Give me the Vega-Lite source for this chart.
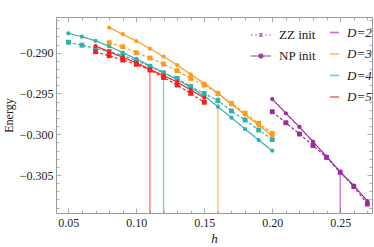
{
  "$schema": "https://vega.github.io/schema/vega-lite/v6.json",
  "width": 316,
  "height": 196,
  "autosize": {"type": "none"},
  "padding": {"left": 56, "top": 17, "right": 2, "bottom": 34},
  "background": "white",
  "config": {
    "view": {"stroke": "#9a9a9a", "strokeWidth": 1},
    "font": "Liberation Serif"
  },
  "datasets": {
    "curves": [
      {"h": 0.08, "E": -0.28691, "D": "D=3", "init": "NP init"},
      {"h": 0.09, "E": -0.28773, "D": "D=3", "init": "NP init"},
      {"h": 0.10, "E": -0.28857, "D": "D=3", "init": "NP init"},
      {"h": 0.11, "E": -0.28951, "D": "D=3", "init": "NP init"},
      {"h": 0.12, "E": -0.29047, "D": "D=3", "init": "NP init"},
      {"h": 0.13, "E": -0.29151, "D": "D=3", "init": "NP init"},
      {"h": 0.14, "E": -0.29265, "D": "D=3", "init": "NP init"},
      {"h": 0.15, "E": -0.29378, "D": "D=3", "init": "NP init"},
      {"h": 0.16, "E": -0.29494, "D": "D=3", "init": "NP init"},
      {"h": 0.17, "E": -0.29635, "D": "D=3", "init": "NP init"},
      {"h": 0.18, "E": -0.29758, "D": "D=3", "init": "NP init"},
      {"h": 0.19, "E": -0.29887, "D": "D=3", "init": "NP init"},
      {"h": 0.20, "E": -0.30022, "D": "D=3", "init": "NP init"},
      {"h": 0.08, "E": -0.28877, "D": "D=3", "init": "ZZ init"},
      {"h": 0.09, "E": -0.28926, "D": "D=3", "init": "ZZ init"},
      {"h": 0.10, "E": -0.29000, "D": "D=3", "init": "ZZ init"},
      {"h": 0.11, "E": -0.29065, "D": "D=3", "init": "ZZ init"},
      {"h": 0.12, "E": -0.29139, "D": "D=3", "init": "ZZ init"},
      {"h": 0.13, "E": -0.29221, "D": "D=3", "init": "ZZ init"},
      {"h": 0.14, "E": -0.29316, "D": "D=3", "init": "ZZ init"},
      {"h": 0.15, "E": -0.29396, "D": "D=3", "init": "ZZ init"},
      {"h": 0.16, "E": -0.29500, "D": "D=3", "init": "ZZ init"},
      {"h": 0.17, "E": -0.29621, "D": "D=3", "init": "ZZ init"},
      {"h": 0.18, "E": -0.29743, "D": "D=3", "init": "ZZ init"},
      {"h": 0.19, "E": -0.29866, "D": "D=3", "init": "ZZ init"},
      {"h": 0.20, "E": -0.29989, "D": "D=3", "init": "ZZ init"},
      {"h": 0.05, "E": -0.28762, "D": "D=4", "init": "NP init"},
      {"h": 0.06, "E": -0.28804, "D": "D=4", "init": "NP init"},
      {"h": 0.07, "E": -0.28854, "D": "D=4", "init": "NP init"},
      {"h": 0.08, "E": -0.28922, "D": "D=4", "init": "NP init"},
      {"h": 0.09, "E": -0.28998, "D": "D=4", "init": "NP init"},
      {"h": 0.10, "E": -0.29077, "D": "D=4", "init": "NP init"},
      {"h": 0.11, "E": -0.29159, "D": "D=4", "init": "NP init"},
      {"h": 0.12, "E": -0.29243, "D": "D=4", "init": "NP init"},
      {"h": 0.13, "E": -0.29329, "D": "D=4", "init": "NP init"},
      {"h": 0.14, "E": -0.29427, "D": "D=4", "init": "NP init"},
      {"h": 0.15, "E": -0.29531, "D": "D=4", "init": "NP init"},
      {"h": 0.16, "E": -0.29662, "D": "D=4", "init": "NP init"},
      {"h": 0.17, "E": -0.29797, "D": "D=4", "init": "NP init"},
      {"h": 0.18, "E": -0.29936, "D": "D=4", "init": "NP init"},
      {"h": 0.19, "E": -0.30071, "D": "D=4", "init": "NP init"},
      {"h": 0.20, "E": -0.30202, "D": "D=4", "init": "NP init"},
      {"h": 0.05, "E": -0.28872, "D": "D=4", "init": "ZZ init"},
      {"h": 0.06, "E": -0.28908, "D": "D=4", "init": "ZZ init"},
      {"h": 0.07, "E": -0.28949, "D": "D=4", "init": "ZZ init"},
      {"h": 0.08, "E": -0.28985, "D": "D=4", "init": "ZZ init"},
      {"h": 0.09, "E": -0.29034, "D": "D=4", "init": "ZZ init"},
      {"h": 0.10, "E": -0.29096, "D": "D=4", "init": "ZZ init"},
      {"h": 0.11, "E": -0.29169, "D": "D=4", "init": "ZZ init"},
      {"h": 0.12, "E": -0.29247, "D": "D=4", "init": "ZZ init"},
      {"h": 0.13, "E": -0.29316, "D": "D=4", "init": "ZZ init"},
      {"h": 0.14, "E": -0.29415, "D": "D=4", "init": "ZZ init"},
      {"h": 0.15, "E": -0.29500, "D": "D=4", "init": "ZZ init"},
      {"h": 0.16, "E": -0.29586, "D": "D=4", "init": "ZZ init"},
      {"h": 0.17, "E": -0.29715, "D": "D=4", "init": "ZZ init"},
      {"h": 0.18, "E": -0.29825, "D": "D=4", "init": "ZZ init"},
      {"h": 0.19, "E": -0.29948, "D": "D=4", "init": "ZZ init"},
      {"h": 0.20, "E": -0.30065, "D": "D=4", "init": "ZZ init"},
      {"h": 0.07, "E": -0.28918, "D": "D=5", "init": "NP init"},
      {"h": 0.08, "E": -0.28988, "D": "D=5", "init": "NP init"},
      {"h": 0.09, "E": -0.29056, "D": "D=5", "init": "NP init"},
      {"h": 0.10, "E": -0.29123, "D": "D=5", "init": "NP init"},
      {"h": 0.11, "E": -0.29204, "D": "D=5", "init": "NP init"},
      {"h": 0.12, "E": -0.29280, "D": "D=5", "init": "NP init"},
      {"h": 0.13, "E": -0.29359, "D": "D=5", "init": "NP init"},
      {"h": 0.14, "E": -0.29457, "D": "D=5", "init": "NP init"},
      {"h": 0.15, "E": -0.29552, "D": "D=5", "init": "NP init"},
      {"h": 0.07, "E": -0.28988, "D": "D=5", "init": "ZZ init"},
      {"h": 0.08, "E": -0.29037, "D": "D=5", "init": "ZZ init"},
      {"h": 0.09, "E": -0.29090, "D": "D=5", "init": "ZZ init"},
      {"h": 0.10, "E": -0.29142, "D": "D=5", "init": "ZZ init"},
      {"h": 0.11, "E": -0.29212, "D": "D=5", "init": "ZZ init"},
      {"h": 0.12, "E": -0.29304, "D": "D=5", "init": "ZZ init"},
      {"h": 0.13, "E": -0.29396, "D": "D=5", "init": "ZZ init"},
      {"h": 0.14, "E": -0.29498, "D": "D=5", "init": "ZZ init"},
      {"h": 0.15, "E": -0.29608, "D": "D=5", "init": "ZZ init"},
      {"h": 0.20, "E": -0.29568, "D": "D=2", "init": "NP init"},
      {"h": 0.21, "E": -0.29743, "D": "D=2", "init": "NP init"},
      {"h": 0.22, "E": -0.29911, "D": "D=2", "init": "NP init"},
      {"h": 0.23, "E": -0.30092, "D": "D=2", "init": "NP init"},
      {"h": 0.24, "E": -0.30273, "D": "D=2", "init": "NP init"},
      {"h": 0.25, "E": -0.30460, "D": "D=2", "init": "NP init"},
      {"h": 0.26, "E": -0.30629, "D": "D=2", "init": "NP init"},
      {"h": 0.27, "E": -0.30819, "D": "D=2", "init": "NP init"},
      {"h": 0.20, "E": -0.29724, "D": "D=2", "init": "ZZ init"},
      {"h": 0.21, "E": -0.29859, "D": "D=2", "init": "ZZ init"},
      {"h": 0.22, "E": -0.29997, "D": "D=2", "init": "ZZ init"},
      {"h": 0.23, "E": -0.30138, "D": "D=2", "init": "ZZ init"},
      {"h": 0.24, "E": -0.30285, "D": "D=2", "init": "ZZ init"},
      {"h": 0.25, "E": -0.30467, "D": "D=2", "init": "ZZ init"},
      {"h": 0.26, "E": -0.30641, "D": "D=2", "init": "ZZ init"},
      {"h": 0.27, "E": -0.30856, "D": "D=2", "init": "ZZ init"}
    ],
    "cuts": [
      {"h": 0.11, "E": -0.29204, "D": "D=5"},
      {"h": 0.12, "E": -0.29243, "D": "D=4"},
      {"h": 0.16, "E": -0.29494, "D": "D=3"},
      {"h": 0.25, "E": -0.30460, "D": "D=2"}
    ]
  },
  "resolve": {"axis": {"x": "independent", "y": "independent"}},
  "layer": [
    {
      "data": {"name": "cuts"},
      "mark": {"type": "rule", "strokeWidth": 1.3, "opacity": 0.65},
      "encoding": {
        "x": {"field": "h", "type": "quantitative", "axis": null,
              "scale": {"domain": [0.0409, 0.2734], "nice": false, "zero": false}},
        "y": {"field": "E", "type": "quantitative", "axis": null,
              "scale": {"domain": [-0.30966, -0.28562], "nice": false, "zero": false}},
        "y2": {"datum": -0.30966},
        "color": {"field": "D", "type": "nominal",
                  "scale": {"domain": ["D=2", "D=3", "D=4", "D=5"], "range": ["#9E2AA0", "#FF9A1F", "#2DB2AE", "#F52020"]}}
      }
    },
    {
      "data": {"name": "curves"},
      "mark": {"type": "line", "strokeWidth": 1.2},
      "encoding": {
        "x": {"field": "h", "type": "quantitative",
              "scale": {"domain": [0.0409, 0.2734], "nice": false, "zero": false},
              "axis": {
                "orient": "bottom", "title": "h", "domain": false, "grid": false,
                "values": [0.05,0.06,0.07,0.08,0.09,0.10,0.11,0.12,0.13,0.14,0.15,0.16,0.17,0.18,0.19,0.20,0.21,0.22,0.23,0.24,0.25,0.26,0.27],
                "labelExpr": "round(datum.value*100) % 5 == 0 ? format(datum.value, '.2f') : ''",
                "tickSize": {"condition": {"test": "round(datum.value*100) % 5 == 0", "value": -5}, "value": -3},
                "tickColor": "#9a9a9a", "tickWidth": 0.8,
                "labelFont": "Liberation Serif", "labelFontSize": 12, "labelColor": "#222", "labelPadding": 9,
                "labelFlush": false, "labelOverlap": false,
                "titleFont": "Liberation Serif", "titleFontSize": 13, "titleFontStyle": "italic", "titleFontWeight": "normal", "titleColor": "#222", "titlePadding": 2
              }},
        "y": {"field": "E", "type": "quantitative",
              "scale": {"domain": [-0.30966, -0.28562], "nice": false, "zero": false},
              "axis": {
                "orient": "left", "title": "Energy", "domain": false, "grid": false,
                "values": [-0.309,-0.308,-0.307,-0.306,-0.305,-0.304,-0.303,-0.302,-0.301,-0.300,-0.299,-0.298,-0.297,-0.296,-0.295,-0.294,-0.293,-0.292,-0.291,-0.290,-0.289,-0.288,-0.287,-0.286],
                "labelExpr": "round(datum.value*1000) % 5 == 0 ? format(datum.value, '.3f') : ''",
                "tickSize": {"condition": {"test": "round(datum.value*1000) % 5 == 0", "value": -5}, "value": -3},
                "tickColor": "#9a9a9a", "tickWidth": 0.8,
                "labelFont": "Liberation Serif", "labelFontSize": 12, "labelColor": "#222", "labelPadding": 8,
                "labelFlush": false, "labelOverlap": false,
                "titleFont": "Liberation Serif", "titleFontSize": 12, "titleFontWeight": "normal", "titleColor": "#222", "titlePadding": 4
              }},
        "color": {"field": "D", "type": "nominal",
                  "scale": {"domain": ["D=2", "D=3", "D=4", "D=5"], "range": ["#9E2AA0", "#FF9A1F", "#2DB2AE", "#F52020"]},
                  "legend": {
                    "orient": "none", "legendX": 272, "legendY": 9, "title": null, "padding": 0,
                    "symbolType": "stroke", "symbolSize": 81, "symbolStrokeWidth": 1.6, "symbolOpacity": 0.75,
                    "labelFont": "Liberation Serif", "labelFontSize": 13, "labelFontStyle": "italic", "labelColor": "#222",
                    "labelOffset": 6, "rowPadding": 7.5
                  }},
        "strokeDash": {"field": "init", "type": "nominal",
                       "scale": {"domain": ["ZZ init", "NP init"], "range": [[3, 2], [1, 0]]},
                       "legend": {
                         "orient": "none", "legendX": 194, "legendY": 7, "title": null, "padding": 0,
                         "symbolSize": 400, "symbolStrokeWidth": 1.2,
                         "symbolStrokeColor": "#A33BA5", "symbolFillColor": "#A33BA5",
                         "labelFont": "Liberation Serif", "labelFontSize": 13, "labelColor": "#222",
                         "labelOffset": 7, "rowPadding": 3,
                         "encode": {
                           "symbols": {
                             "update": {
                               "shape": {"signal": "datum.value === 'ZZ init' ? 'M-1,0H-0.8M-0.6,0H-0.4M-0.2,0H0.2M0.4,0H0.6M0.8,0H1M-0.13,-0.13H0.13V0.13H-0.13Z' : 'M-1,0H1M0.2,0A0.2,0.2,0,1,1,-0.2,0A0.2,0.2,0,1,1,0.2,0Z'"},
                               "strokeDash": {"value": [1, 0]},
                               "opacity": {"signal": "datum.value === 'ZZ init' ? 0.7 : 1"}
                             }
                           }
                         }
                       }}
      }
    },
    {
      "data": {"name": "curves"},
      "transform": [{"filter": "datum.init === 'ZZ init'"}],
      "mark": {"type": "point", "filled": true, "opacity": 1, "shape": "square", "size": 24},
      "encoding": {
        "x": {"field": "h", "type": "quantitative",
              "scale": {"domain": [0.0409, 0.2734], "nice": false, "zero": false},
              "axis": {
                "orient": "top", "title": null, "labels": false, "domain": false, "grid": false,
                "values": [0.05,0.06,0.07,0.08,0.09,0.10,0.11,0.12,0.13,0.14,0.15,0.16,0.17,0.18,0.19,0.20,0.21,0.22,0.23,0.24,0.25,0.26,0.27],
                "tickSize": {"condition": {"test": "round(datum.value*100) % 5 == 0", "value": -5}, "value": -3},
                "tickColor": "#9a9a9a", "tickWidth": 0.8
              }},
        "y": {"field": "E", "type": "quantitative",
              "scale": {"domain": [-0.30966, -0.28562], "nice": false, "zero": false},
              "axis": {
                "orient": "right", "title": null, "labels": false, "domain": false, "grid": false,
                "values": [-0.309,-0.308,-0.307,-0.306,-0.305,-0.304,-0.303,-0.302,-0.301,-0.300,-0.299,-0.298,-0.297,-0.296,-0.295,-0.294,-0.293,-0.292,-0.291,-0.290,-0.289,-0.288,-0.287,-0.286],
                "tickSize": {"condition": {"test": "round(datum.value*1000) % 5 == 0", "value": -5}, "value": -3},
                "tickColor": "#9a9a9a", "tickWidth": 0.8
              }},
        "color": {"field": "D", "type": "nominal",
                  "scale": {"domain": ["D=2", "D=3", "D=4", "D=5"], "range": ["#9E2AA0", "#FF9A1F", "#2DB2AE", "#F52020"]}}
      }
    },
    {
      "data": {"name": "curves"},
      "transform": [{"filter": "datum.init === 'NP init'"}],
      "mark": {"type": "point", "filled": true, "opacity": 1, "shape": "circle", "size": 18},
      "encoding": {
        "x": {"field": "h", "type": "quantitative", "axis": null,
              "scale": {"domain": [0.0409, 0.2734], "nice": false, "zero": false}},
        "y": {"field": "E", "type": "quantitative", "axis": null,
              "scale": {"domain": [-0.30966, -0.28562], "nice": false, "zero": false}},
        "color": {"field": "D", "type": "nominal",
                  "scale": {"domain": ["D=2", "D=3", "D=4", "D=5"], "range": ["#9E2AA0", "#FF9A1F", "#2DB2AE", "#F52020"]}}
      }
    }
  ]
}
